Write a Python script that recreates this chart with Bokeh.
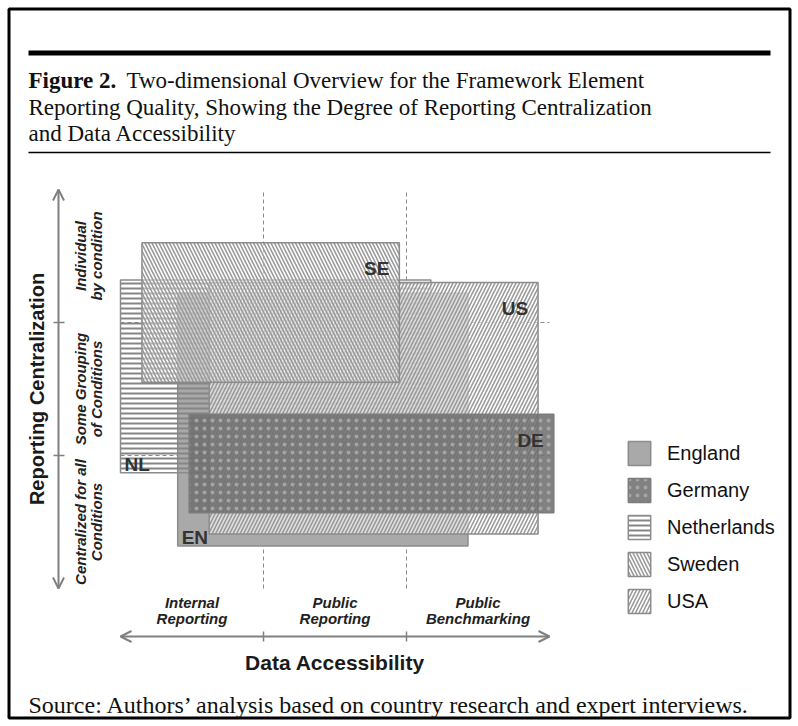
import math
from bokeh.plotting import figure
from bokeh.models import ColumnDataSource, Range1d, Arrow, OpenHead, Legend, LegendItem
from bokeh.core.properties import value
from bokeh.embed import file_html
from bokeh.resources import INLINE

# ---------------- data ----------------
# drawing order (back to front)
countries = ["England", "Netherlands", "USA", "Sweden", "Germany"]
codes = ["EN", "NL", "US", "SE", "DE"]
# Data Accessibility: 0-1 internal, 1-2 public reporting, 2-3 public benchmarking
access_start = [0.40, 0.00, 0.62, 0.15, 0.48]
access_end = [2.43, 2.17, 2.92, 1.95, 3.03]
# Reporting Centralization: 0-1 centralized, 1-2 grouping, 2-3 individual
central_start = [0.32, 0.87, 0.41, 1.55, 0.57]
central_end = [2.22, 2.32, 2.30, 2.60, 1.31]

x_categories = ["Internal\nReporting", "Public\nReporting", "Public\nBenchmarking"]
y_categories = ["Centralized for all\nConditions", "Some Grouping\nof Conditions", "Individual\nby condition"]
category_centers = [0.5, 1.5, 2.5]
category_bounds = [1, 2]
axis_span = [0, 3]
legend_order = ["England", "Germany", "Netherlands", "Sweden", "USA"]

title_bold = "Figure 2."
title_lines = [
    "Two-dimensional Overview for the Framework Element",
    "Reporting Quality, Showing the Degree of Reporting Centralization",
    "and Data Accessibility",
]
source_text = "Source: Authors\u2019 analysis based on country research and expert interviews."

# ---------------- styles ----------------
fill_colors = ["#a9a9a9", "#ffffff", "#ffffff", "#ffffff", "#707070"]
fill_alphas = [1.0, 0.0, 0.62, 0.45, 0.88]
hatch_patterns = [" ", "-", "/", "\\", "."]
hatch_colors = ["#a9a9a9", "#858585", "#9a9a9a", "#9a9a9a", "#a4a4a4"]
hatch_scales = [8, 5, 7, 7, 8]
hatch_weights = [1.0, 2.0, 1.6, 1.6, 0.5]
line_colors = ["#8c8c8c", "#8c8c8c", "#8c8c8c", "#8c8c8c", "#7c7c7c"]
label_corner = ["bottom_left", "bottom_left", "top_right", "top_right", "top_right"]

SANS = "Liberation Sans"
SERIF = "Liberation Serif"
GRAY = "#808080"

# ---------------- layout: page pixel -> data mapping ----------------
W, H = 798, 726
X0_PX, X_UNIT = 120.0, 143.0
Y0_PX, Y_UNIT = 588.0, 133.0


def dx(px):
    return (px - X0_PX) / X_UNIT


def dy(py):
    return (Y0_PX - py) / Y_UNIT


p = figure(width=W, height=H,
           x_range=Range1d(dx(0), dx(W)),
           y_range=Range1d(dy(H), dy(0)),
           x_axis_type=None, y_axis_type=None,
           output_backend="svg", toolbar_location=None,
           min_border=0, min_border_left=0, min_border_right=0,
           min_border_top=0, min_border_bottom=0)
p.grid.visible = False
p.outline_line_color = None
p.background_fill_color = "white"
p.border_fill_color = "white"

# outer frame of the figure box
p.quad(left=[dx(8.5)], right=[dx(789.5)], top=[dy(8.5)], bottom=[dy(717.5)],
       fill_color=None, line_color="black", line_width=3)

# ---------------- header ----------------
p.quad(left=[dx(28)], right=[dx(770)], top=[dy(50)], bottom=[dy(55)],
       fill_color="black", line_color=None)
p.segment(x0=[dx(28)], y0=[dy(152)], x1=[dx(770)], y1=[dy(152)],
          line_color="black", line_width=1.3)

p.text(x=[dx(28)], y=[dy(80)], text=[title_bold], text_font=value(SERIF),
       text_font_style="bold", text_font_size="23px", text_baseline="alphabetic",
       text_color="#111111")
p.text(x=[dx(126), dx(28), dx(28)], y=[dy(80), dy(107), dy(133)], text=title_lines,
       text_font=value(SERIF), text_font_size="23px", text_baseline="alphabetic",
       text_color="#111111")

# ---------------- dashed category boundaries ----------------
p.segment(x0=category_bounds, y0=[axis_span[0]] * 2, x1=category_bounds, y1=[axis_span[1]] * 2,
          line_color="#8a8a8a", line_width=1, line_dash="4 3")
p.segment(x0=[axis_span[0]] * 2, y0=category_bounds, x1=[axis_span[1]] * 2, y1=category_bounds,
          line_color="#8a8a8a", line_width=1, line_dash="4 3")

# ---------------- country rectangles ----------------
src = ColumnDataSource(dict(
    left=access_start, right=access_end, bottom=central_start, top=central_end,
    country=countries, fill=fill_colors, alpha=fill_alphas, hp=hatch_patterns,
    hc=hatch_colors, hs=hatch_scales, hw=hatch_weights, lc=line_colors,
))
r = p.quad(left="left", right="right", bottom="bottom", top="top", source=src,
           fill_color="fill", fill_alpha="alpha", hatch_pattern="hp",
           hatch_color="hc", hatch_scale="hs", hatch_weight="hw",
           line_color="lc", line_width=1.5)

# country codes
tr = [i for i, c in enumerate(label_corner) if c == "top_right"]
bl = [i for i, c in enumerate(label_corner) if c == "bottom_left"]
p.text(x=[access_end[i] for i in tr], y=[central_end[i] for i in tr],
       text=[codes[i] for i in tr], text_align="right", text_baseline="alphabetic",
       x_offset=-10, y_offset=26, text_font=value(SANS), text_font_style="bold",
       text_font_size="19px", text_color="#333333")
p.text(x=[access_start[i] for i in bl], y=[central_start[i] for i in bl],
       text=[codes[i] for i in bl], text_align="left", text_baseline="alphabetic",
       x_offset=4, y_offset=-8, text_font=value(SANS), text_font_style="bold",
       text_font_size="19px", text_color="#333333")

# ---------------- axes (arrows) ----------------
y_axis_x = dx(58)
x_axis_y = dy(636)
p.add_layout(Arrow(x_start=y_axis_x, y_start=axis_span[0], x_end=y_axis_x, y_end=axis_span[1],
                   line_color=GRAY, line_width=2,
                   start=OpenHead(size=11, line_color=GRAY, line_width=2),
                   end=OpenHead(size=11, line_color=GRAY, line_width=2)))
p.add_layout(Arrow(x_start=axis_span[0], y_start=x_axis_y, x_end=axis_span[1], y_end=x_axis_y,
                   line_color=GRAY, line_width=2,
                   start=OpenHead(size=11, line_color=GRAY, line_width=2),
                   end=OpenHead(size=11, line_color=GRAY, line_width=2)))
# ticks
p.segment(x0=[dx(53)] * 2, y0=category_bounds, x1=[dx(64)] * 2, y1=category_bounds,
          line_color=GRAY, line_width=1.5)
p.segment(x0=category_bounds, y0=[dy(631)] * 2, x1=category_bounds, y1=[dy(641)] * 2,
          line_color=GRAY, line_width=1.5)

# category labels
p.text(x=category_centers, y=[dy(610)] * 3, text=x_categories, text_align="center",
       text_baseline="middle", text_font=value(SANS), text_font_style="bold italic",
       text_font_size="15px", text_line_height=0.95, text_color="#222222")
p.text(x=[dx(88)] * 3, y=category_centers, text=y_categories, angle=math.pi / 2,
       text_align="center", text_baseline="middle", text_font=value(SANS),
       text_font_style="bold italic", text_font_size="15px", text_line_height=0.95,
       text_color="#222222")

# axis titles
p.text(x=[1.5], y=[dy(662)], text=["Data Accessibility"], text_align="center",
       text_baseline="middle", text_font=value(SANS), text_font_style="bold",
       text_font_size="21px", text_color="#1a1a1a")
p.text(x=[dx(36)], y=[1.5], text=["Reporting Centralization"], angle=math.pi / 2,
       text_align="center", text_baseline="middle", text_font=value(SANS),
       text_font_style="bold", text_font_size="20px", text_color="#1a1a1a")

# source
p.text(x=[dx(28)], y=[dy(704)], text=[source_text], text_font=value(SERIF),
       text_font_size="24px", text_baseline="alphabetic", text_color="#111111")

# ---------------- legend ----------------
items = [LegendItem(label=name, renderers=[r], index=countries.index(name)) for name in legend_order]
legend = Legend(items=items, location=(625, 110), glyph_width=28, glyph_height=30,
                label_height=30, spacing=7, label_standoff=14, padding=0, margin=0,
                border_line_color=None, background_fill_alpha=0,
                label_text_font=SANS, label_text_font_size="20px", label_text_color="#111111")
p.add_layout(legend)

open("out.html", "w").write(file_html(p, INLINE))
